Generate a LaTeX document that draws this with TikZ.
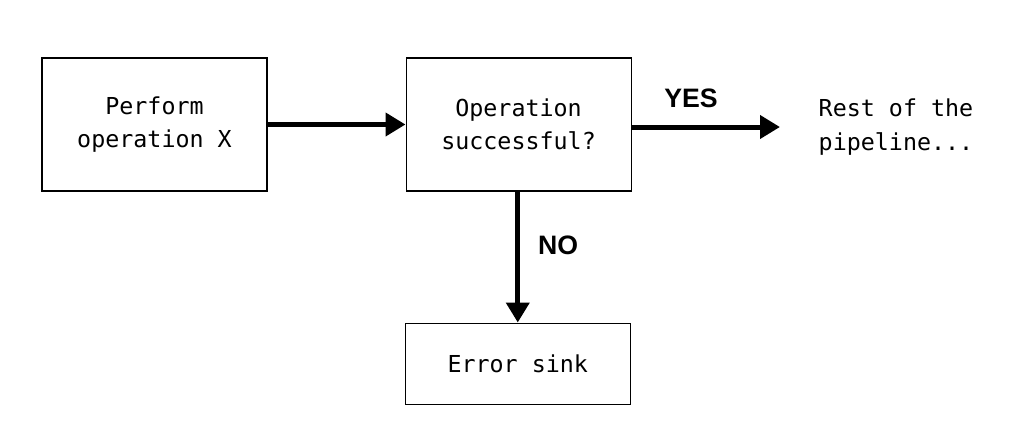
\documentclass[tikz,border=0pt]{standalone}
\usepackage{fontspec}
\setmonofont{DejaVu Sans Mono}
\setsansfont{Liberation Sans}
\usepackage{tikz}
\usetikzlibrary{positioning,arrows.meta}

\tikzset{
  opbox/.style={draw, line width=0.8pt, minimum width=168.75pt, align=center,
    font=\ttfamily\fontsize{17.5}{25}\selectfont},
  answer/.style={font=\sffamily\bfseries\fontsize{20}{24}\selectfont},
  flow/.style={line width=3.75pt, -{Triangle[length=15pt,width=17pt]}}
}

\begin{document}
\begin{tikzpicture}[x=0.75pt,y=-0.75pt]
\useasboundingbox (0,0) rectangle (1024,440);
\node[opbox, minimum height=99.75pt] (perform) at (154.5,124.5) {Perform\\operation X};
\node[opbox, minimum height=99.75pt, right=103.5pt of perform] (check) {Operation\\successful?};
\node[opbox, minimum height=60.75pt, below=98.25pt of check, xshift=-0.6pt] (sink) {Error sink};
\node[align=left, font=\ttfamily\fontsize{17.5}{25}\selectfont] (rest) at (896,127) {Rest of the\\pipeline...};
\coordinate (restin) at (780,127);
% arrows
\draw[flow] (perform.east) -- (check.west);
\draw[flow] (check.east |- restin) -- (restin);
\draw[flow] (sink.north |- check.south) -- (sink.north);
% labels
\node[answer] (yes) at (691,98) {YES};
\node[answer] (no) at (558,245) {NO};
\end{tikzpicture}
\end{document}
